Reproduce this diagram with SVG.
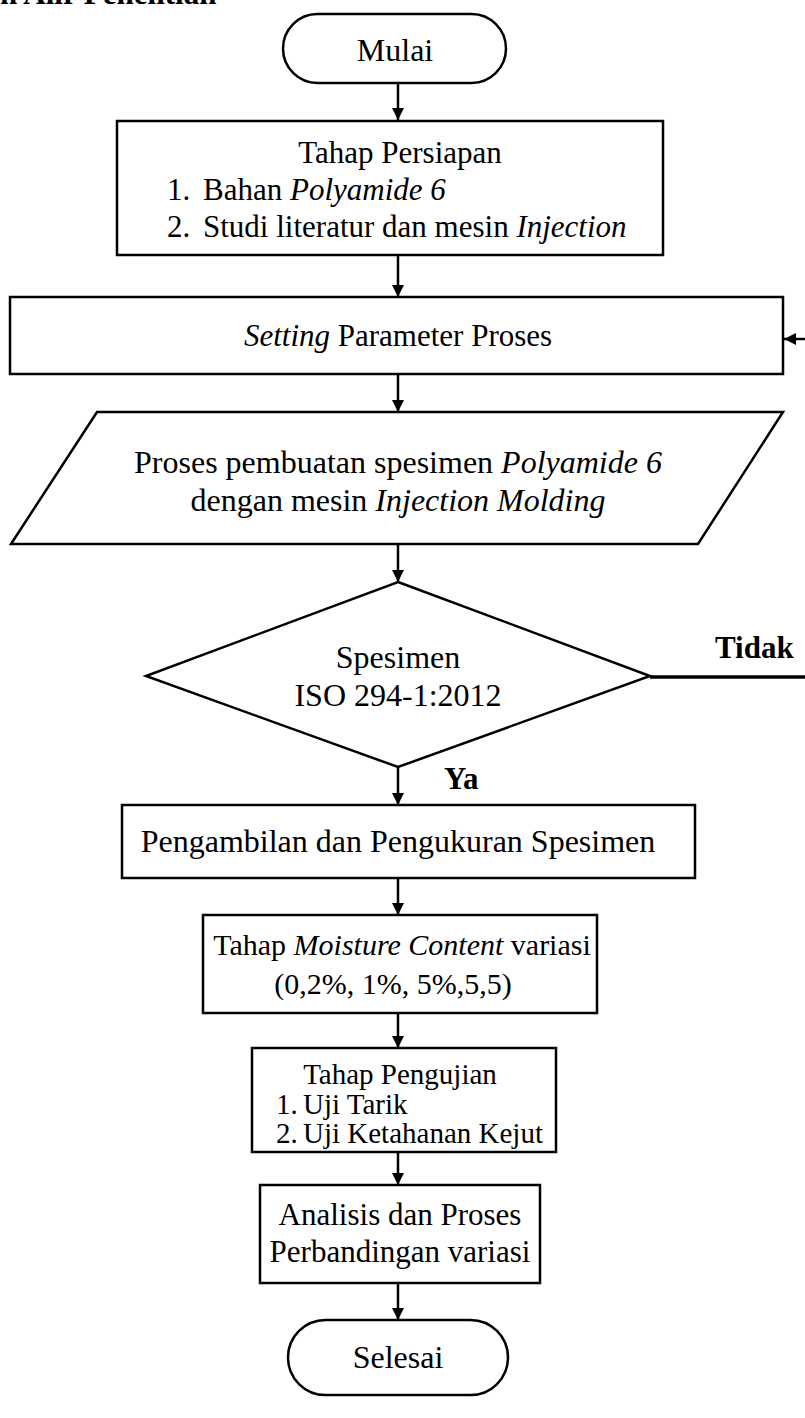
<svg xmlns="http://www.w3.org/2000/svg" width="805" height="1418" viewBox="0 0 805 1418">
<defs>
<style>
.s{fill:#fff;stroke:#000;stroke-width:2.5}
.t{font-family:"Liberation Serif","Times New Roman",serif;font-size:31px;fill:#000}
.c{text-anchor:middle}
.b{font-weight:bold}
.i{font-style:italic}
.l{stroke:#000;stroke-width:2.5;fill:none}
</style>
<marker id="ah" viewBox="0 0 12 12" refX="12" refY="6" markerWidth="12" markerHeight="12" markerUnits="userSpaceOnUse" orient="auto">
<path d="M0,0 L12,6 L0,12 Z" fill="#000"/>
</marker>
</defs>
<rect width="805" height="1418" fill="#fff"/>
<text class="t b" x="0" y="4">n Alir Penelitian</text>

<g id="connectors">
<line class="l" x1="398" y1="83" x2="398" y2="120" marker-end="url(#ah)"/>
<line class="l" x1="398" y1="255" x2="398" y2="297" marker-end="url(#ah)"/>
<line class="l" x1="398" y1="374" x2="398" y2="412" marker-end="url(#ah)"/>
<line class="l" x1="398" y1="545" x2="398" y2="582" marker-end="url(#ah)"/>
<line class="l" x1="398" y1="767" x2="398" y2="805" marker-end="url(#ah)"/>
<line class="l" x1="398" y1="878" x2="398" y2="915" marker-end="url(#ah)"/>
<line class="l" x1="398" y1="1013" x2="398" y2="1048" marker-end="url(#ah)"/>
<line class="l" x1="398" y1="1152" x2="398" y2="1185" marker-end="url(#ah)"/>
<line class="l" x1="398" y1="1283" x2="398" y2="1320" marker-end="url(#ah)"/>
<line x1="650" y1="677" x2="805" y2="677" stroke="#000" stroke-width="3.5"/>
<line class="l" x1="805" y1="339" x2="784" y2="339" stroke-width="3" marker-end="url(#ah)"/>
<text class="t b" x="715" y="658">Tidak</text>
<text class="t b" x="444" y="789">Ya</text>
</g>

<g id="mulai">
<rect class="s" x="283" y="14" width="223" height="69" rx="34.5"/>
<text class="t c" x="395" y="61" style="font-size:32px">Mulai</text>
</g>

<g id="persiapan">
<rect class="s" x="117" y="121" width="546" height="134"/>
<text class="t c" x="400" y="163">Tahap Persiapan</text>
<text class="t" y="200"><tspan x="167">1.</tspan><tspan x="203">Bahan </tspan><tspan class="i">Polyamide 6</tspan></text>
<text class="t" y="237"><tspan x="167">2.</tspan><tspan x="203">Studi literatur dan mesin </tspan><tspan class="i">Injection</tspan></text>
</g>

<g id="setting">
<rect class="s" x="10" y="297" width="773" height="77"/>
<text class="t c" x="398" y="346"><tspan class="i">Setting</tspan> Parameter Proses</text>
</g>

<g id="proses">
<polygon class="s" points="97,412 783,412 698,544 11,544"/>
<text class="t c" x="398" y="473" style="font-size:32px">Proses pembuatan spesimen <tspan class="i">Polyamide 6</tspan></text>
<text class="t c" x="398" y="511" style="font-size:32px">dengan mesin <tspan class="i">Injection Molding</tspan></text>
</g>

<g id="keputusan">
<polygon class="s" points="398,582 650,676 398,767 146,676"/>
<text class="t c" x="398" y="668" style="font-size:32px">Spesimen</text>
<text class="t c" x="398" y="706" style="font-size:32px">ISO 294-1:2012</text>
</g>

<g id="pengambilan">
<rect class="s" x="122" y="805" width="573" height="73"/>
<text class="t c" x="398" y="852" style="font-size:32px">Pengambilan dan Pengukuran Spesimen</text>
</g>

<g id="moisture">
<rect class="s" x="203" y="915" width="394" height="98"/>
<text class="t c" x="402" y="955" style="font-size:30px">Tahap <tspan class="i">Moisture Content</tspan> variasi</text>
<text class="t c" x="393" y="994" style="font-size:30px">(0,2%, 1%, 5%,5,5)</text>
</g>

<g id="pengujian">
<rect class="s" x="252" y="1048" width="304" height="104"/>
<text class="t c" x="400" y="1084" style="font-size:29px">Tahap Pengujian</text>
<text class="t" y="1114" style="font-size:29px"><tspan x="276">1.</tspan><tspan x="303">Uji Tarik</tspan></text>
<text class="t" y="1143" style="font-size:29px"><tspan x="276">2.</tspan><tspan x="303">Uji Ketahanan Kejut</tspan></text>
</g>

<g id="analisis">
<rect class="s" x="260" y="1185" width="280" height="98"/>
<text class="t c" x="400" y="1225">Analisis dan Proses</text>
<text class="t c" x="400" y="1262">Perbandingan variasi</text>
</g>

<g id="selesai">
<rect class="s" x="288" y="1320" width="220" height="75" rx="37.5"/>
<text class="t c" x="398" y="1368" style="font-size:32px">Selesai</text>
</g>
</svg>
